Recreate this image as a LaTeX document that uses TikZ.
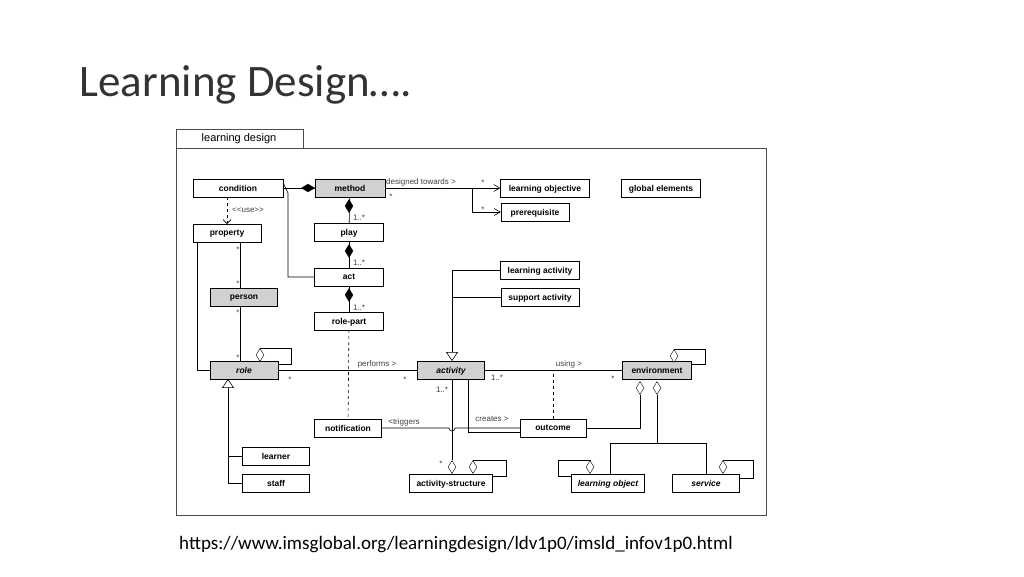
\documentclass[tikz,border=0pt]{standalone}
\usepackage{fontspec}
\setmainfont{Carlito}
\newfontfamily\umlfont{Liberation Sans}
\usetikzlibrary{shapes.geometric,arrows.meta}
\tikzset{
  cls/.style={draw, thin, fill=white, minimum height=17.5pt, inner sep=1pt, text depth=0pt, font=\umlfont\fontsize{8.5}{9}\selectfont\bfseries},
  key/.style={cls, fill=black!18},
  itl/.style={font=\umlfont\fontsize{8.5}{9}\selectfont\bfseries\itshape},
  lbl/.style={font=\umlfont\fontsize{8}{9}\selectfont, inner sep=1pt, text=black!75},
  dmd/.style={diamond, draw, fill=white, minimum width=8pt, minimum height=13pt, inner sep=0pt, aspect=0.6},
  fdmd/.style={dmd, fill=black},
  ln/.style={draw, line width=0.6pt},
  opn/.style={-{Straight Barb[length=6pt,width=7pt]}},
  tri/.style={-{Triangle[open,length=9pt,width=12pt]}}
}
\begin{document}
\begin{tikzpicture}[x=1pt,y=-1pt]
\useasboundingbox (0,0) rectangle (1024,576);
\node[anchor=west, font=\fontsize{45}{50}\selectfont, text=black!80] (title) at (76,85) {Learning Design….};
\node[font=\fontsize{19}{22}\selectfont] (url) at (456,545) {https://www.imsglobal.org/learningdesign/ldv1p0/imsld\_infov1p0.html};

% frame
\draw[black!70] (176,148) rectangle (766,515);
\draw[black!70] (176,148) rectangle (303,129);
\node[font=\umlfont\fontsize{11}{12}\selectfont] (frame) at (239,139) {learning design};

% classes
\node[cls, minimum width=90pt] (condition) at (238,188) {condition};
\node[key, minimum width=70pt] (method) at (350,188) {method};
\node[cls, minimum width=89pt] (objective) at (545,188) {learning objective};
\node[cls, minimum width=79pt] (global) at (661,188) {global elements};
\node[cls, minimum width=68pt] (prereq) at (535,212) {prerequisite};
\node[cls, minimum width=68pt] (property) at (227,233) {property};
\node[cls, minimum width=69pt] (play) at (349,232) {play};
\node[cls, minimum width=69pt] (act) at (349,277) {act};
\node[cls, minimum width=79pt] (lactivity) at (540,270) {learning activity};
\node[cls, minimum width=78pt] (sactivity) at (540,297) {support activity};
\node[key, minimum width=67pt] (person) at (244,297) {person};
\node[cls, minimum width=69pt] (rolepart) at (349,321) {role-part};
\node[key, itl, minimum width=68pt] (role) at (244,370) {role};
\node[key, itl, minimum width=67pt] (activity) at (451,370) {activity};
\node[key, minimum width=69pt] (environment) at (657,370) {environment};
\node[cls, minimum width=67pt] (notification) at (348,428) {notification};
\node[cls, minimum width=66pt] (outcome) at (553,428) {outcome};
\node[cls, minimum width=67pt] (learner) at (276,456) {learner};
\node[cls, minimum width=67pt] (staff) at (276,483) {staff};
\node[cls, minimum width=83pt] (astructure) at (451,483) {activity-structure};
\node[cls, itl, minimum width=73pt] (lobject) at (608,483) {learning object};
\node[cls, itl, minimum width=67pt] (service) at (706,483) {service};

% composition
\draw[ln] (condition) -- (method.west);
\node[fdmd, rotate=90] (dm1) at (308,188) {};
\foreach \a/\b/\y in {method/play/206, play/act/251, act/rolepart/295}
{
  \draw[ln] (\a) -- (\b);
  \node[fdmd] at (349,\y) {};
}
\node[lbl] (m1) at (359,218) {1..*};
\node[lbl] (m2) at (359,263) {1..*};
\node[lbl] (m3) at (359,308) {1..*};

% condition links
\draw[ln] ([yshift=5pt]condition.east) -- (288,193) |- (act.west);
\draw[ln, dashed, -{Straight Barb[length=4pt]}] (condition.south -| 227,197) -- (property.north);
\node[lbl] (use) at (248,210) {<<use>>};

% designed towards
\coordinate (fork) at (472,188);
\draw[ln, opn] (method.east) -- (objective.west);
\draw[ln, opn] (fork) |- (prereq.west);
\node[lbl, anchor=south west] (dt) at (385,187) {designed towards >};
\node[lbl] at (483,183) {*};
\node[lbl] at (391,197) {*};
\node[lbl] at (483,210) {*};

% person / property / role
\draw[ln] ([xshift=-30pt]property.south) |- (role.west);
\draw[ln] (240,242) -- (person.north -| 240,0);
\draw[ln] (person.south -| 240,0) -- (role.north -| 240,0);
\node[lbl] at (238,250) {*};
\node[lbl] at (238,284) {*};
\node[lbl] at (238,313) {*};
\node[lbl] at (238,358) {*};

% role self loop
\node[dmd] (rd) at (260,355) {};
\draw[ln] (rd.north) -- (260,348) -- (291,348) |- (role.east |- 0,364);

% role generalisation
\draw[ln, tri] (228,456) -- (role.south -| 228,0);
\draw[ln] (learner.west) -- (228,456) |- (staff.west);

% performs
\draw[ln] (role) -- (activity);
\node[lbl, anchor=south] (perf) at (377,369) {performs >};
\node[lbl] at (290,380) {*};
\node[lbl] at (405,380) {*};
\draw[ln, dashed] (rolepart) -- (notification);

% activity generalisation
\draw[ln, tri] (452,270) -- (activity.north -| 452,0);
\draw[ln] (lactivity.west) -- (452,270);
\draw[ln] (sactivity.west) -- (452,297);

% using
\draw[ln] (activity) -- (environment);
\node[lbl, anchor=south] (using) at (569,369) {using >};
\node[lbl] (m4) at (497,378) {1..*};
\node[lbl] at (613,379) {*};
\draw[ln, dashed] (outcome) -- (553,370);

% activity structure
\node[dmd] (asd) at (452,467) {};
\draw[ln] (activity.south -| 452,0) -- (asd.north);
\node[lbl] (m5) at (442,390) {1..*};
\node[lbl] at (441,464) {*};
\node[dmd] (asl) at (473,467) {};
\draw[ln] (asl.north) -- (473,460) -- (506,460) |- (astructure.east |- 0,476);

% triggers / creates
\draw[ln] (notification.east) -- (449,428) arc (180:0:3) -- (outcome.west);
\node[lbl, anchor=south] (trig) at (404,427) {<triggers};
\draw[ln] (activity.south -| 468,0) |- ([yshift=-4pt]outcome.west);
\node[lbl, anchor=south] (creates) at (492,423) {creates >};

% environment
\node[dmd] (ed1) at (640,388) {};
\node[dmd] (ed2) at (657,388) {};
\node[dmd] (edl) at (674,356) {};
\draw[ln] (edl.north) -- (674,349) -- (705,349) |- (environment.east |- 0,364);
\draw[ln] (outcome.east) -- (640,428) -- (ed1.south);
\draw[ln] (ed2.south) -- (657,443);
\draw[ln] (610,443) -- (706,443);
\draw[ln] (610,443) -- (lobject.north -| 610,0);
\draw[ln] (706,443) -- (service.north);

% learning object / service loops
\node[dmd] (lod) at (590,467) {};
\draw[ln] (lod.north) -- (590,460) -- (558,460) |- (lobject.west |- 0,476);
\node[dmd] (svd) at (723,467) {};
\draw[ln] (svd.north) -- (723,460) -- (753,460) |- (service.east |- 0,478);
\end{tikzpicture}
\end{document}
